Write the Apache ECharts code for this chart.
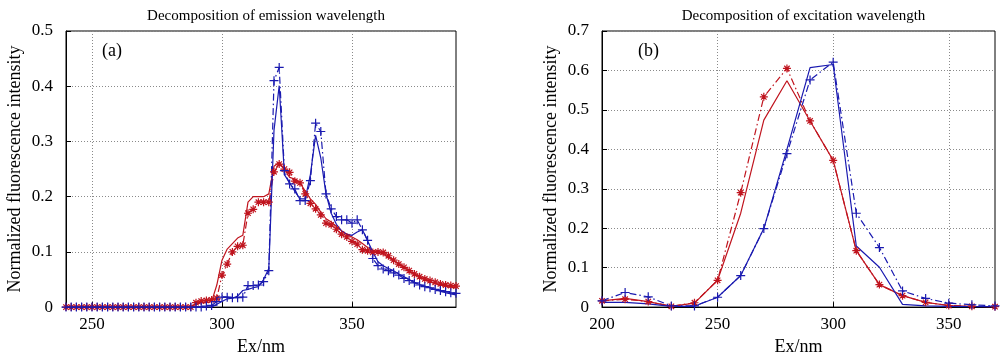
<!DOCTYPE html>
<html><head><meta charset="utf-8">
<script src="https://cdn.jsdelivr.net/npm/echarts@6/dist/echarts.min.js"></script>
<style>html,body{margin:0;padding:0;background:#fff}#c{width:1000px;height:361px}</style>
</head><body><div id="c"></div>
<script>
// ---- Panel (a): emission wavelength ----
const emX = [240,242,244,246,248,250,252,254,256,258,260,262,264,266,268,270,272,274,276,278,280,282,284,286,288,
  290,292,294,296,298,300,302,304,306,308,310,312,314,316,318,320,322,324,326,328,330,332,334,336,338,
  340,342,344,346,348,350,352,354,356,358,360,362,364,366,368,370,372,374,376,378,380,382,384,386,388,390];
const emRedLine = [0,0,0,0,0,0,0,0,0,0,0,0,0,0,0,0,0,0,0,0,0,0,0,0,0,
  0.005,0.008,0.008,0.010,0.040,0.085,0.105,0.115,0.125,0.130,0.190,0.200,0.200,0.200,0.205,0.255,0.262,0.250,0.235,0.232,0.225,0.210,0.196,0.186,0.172,
  0.160,0.154,0.146,0.138,0.132,0.127,0.122,0.115,0.108,0.103,0.100,0.096,0.090,0.084,0.078,0.072,0.066,0.060,0.055,0.050,0.046,0.043,0.040,0.038,0.036,0.035];
const emRedMark = [0,0,0,0,0,0,0,0,0,0,0,0,0,0,0,0,0,0,0,0,0,0,0,0,0,
  0.008,0.011,0.012,0.013,0.016,0.058,0.078,0.100,0.110,0.112,0.170,0.177,0.190,0.190,0.190,0.245,0.259,0.250,0.244,0.228,0.225,0.205,0.188,0.178,0.167,
  0.152,0.149,0.141,0.132,0.127,0.119,0.114,0.104,0.102,0.099,0.100,0.099,0.093,0.085,0.078,0.072,0.066,0.060,0.055,0.051,0.048,0.045,0.042,0.040,0.039,0.038];
const emBlueLine = [0,0,0,0,0,0,0,0,0,0,0,0,0,0,0,0,0,0,0,0,0,0,0,0,0,
  0,0,0,0,0.005,0.010,0.015,0.016,0.020,0.030,0.032,0.035,0.037,0.050,0.070,0.320,0.401,0.240,0.225,0.210,0.196,0.196,0.240,0.311,0.270,
  0.205,0.170,0.150,0.138,0.132,0.130,0.136,0.140,0.120,0.100,0.082,0.075,0.070,0.066,0.060,0.055,0.050,0.045,0.041,0.038,0.035,0.032,0.029,0.026,0.024,0.022];
const emBlueMark = [0,0,0,0,0,0,0,0,0,0,0,0,0,0,0,0,0,0,0,0,0,0,0,0,0,
  0,0,0.002,0.003,0.010,0.018,0.018,0.017,0.017,0.018,0.039,0.039,0.040,0.046,0.066,0.410,0.434,0.247,0.223,0.214,0.193,0.193,0.229,0.333,0.318,
  0.205,0.178,0.164,0.158,0.158,0.152,0.158,0.140,0.121,0.088,0.075,0.069,0.066,0.062,0.058,0.052,0.048,0.044,0.040,0.037,0.035,0.032,0.030,0.028,0.026,0.025];
const emXTicks = [250, 300, 350];

// ---- Panel (b): excitation wavelength ----
const exX = [200,210,220,230,240,250,260,270,280,290,300,310,320,330,340,350,360,370];
const exRedLine  = [0.016,0.022,0.014,0.002,0.010,0.068,0.238,0.474,0.574,0.472,0.372,0.143,0.057,0.029,0.012,0.004,0.002,0.001];
const exRedMark  = [0.016,0.020,0.014,0.002,0.011,0.068,0.290,0.533,0.605,0.472,0.372,0.143,0.057,0.029,0.012,0.004,0.002,0.001];
const exBlueLine = [0.012,0.012,0.008,0.002,0.002,0.025,0.080,0.199,0.400,0.607,0.615,0.155,0.101,0.007,0.003,0.002,0.001,0.001];
const exBlueMark = [0.016,0.037,0.026,0.003,0.003,0.025,0.080,0.199,0.389,0.576,0.621,0.238,0.151,0.041,0.022,0.010,0.006,0.003];
const exXTicks = [200, 250, 300, 350];

const titles = ['Decomposition of emission wavelength', 'Decomposition of excitation wavelength'];
const panelTags = ['(a)', '(b)'];
const xName = 'Ex/nm';
const yName = 'Normalized fluorescence intensity';

const RED = '#c0141e', BLUE = '#1a1ab0';
const FONT = "'Liberation Serif','Times New Roman',serif";
const ASTER = 'path://M5,0L5,10M0,5L10,5M1.6,1.6L8.4,8.4M1.6,8.4L8.4,1.6';
const PLUS = 'path://M5,0L5,10M0,5L10,5';
const DASHDOT = [7,3,1.5,3];

const zip = (xs, ys) => xs.map((x, i) => [x, ys[i]]);

const grids = [
  {left: 66, top: 31, width: 390, height: 281},
  {left: 602, top: 31, width: 393, height: 281}
];

function xAxisCfg(gi, min, max, ticks) {
  return {
    gridIndex: gi, type: 'value', min, max,
    name: xName, nameLocation: 'middle', nameGap: 28,
    nameTextStyle: {fontFamily: FONT, fontSize: 18, color: '#000'},
    axisLine: {show: true, lineStyle: {color: '#000', width: 1}},
    axisTick: {show: true, inside: true, length: 5, customValues: ticks, lineStyle: {color: '#000'}},
    axisLabel: {customValues: ticks, fontFamily: FONT, fontSize: 17, color: '#000', margin: 9},
    splitLine: {show: true, customValues: ticks, lineStyle: {color: '#8a8a8a', type: [1, 2], width: 1}}
  };
}
function yAxisCfg(gi, max) {
  return {
    gridIndex: gi, type: 'value', min: 0, max, interval: 0.1,
    name: yName, nameLocation: 'middle', nameGap: 42,
    nameTextStyle: {fontFamily: FONT, fontSize: 18, color: '#000'},
    axisLine: {show: true, lineStyle: {color: '#000', width: 1}},
    axisTick: {show: true, inside: true, length: 5, lineStyle: {color: '#000'}},
    axisLabel: {fontFamily: FONT, fontSize: 17, color: '#000', margin: 13,
      formatter: v => (Math.abs(v) < 1e-9 ? '0' : (+v.toFixed(1)).toString())},
    splitLine: {show: true, lineStyle: {color: '#8a8a8a', type: [1, 2], width: 1}}
  };
}

function lineSeries(gi, xs, ys, color, dashed, symbol, size) {
  return {
    type: 'line', xAxisIndex: gi, yAxisIndex: gi,
    data: zip(xs, ys),
    showSymbol: !!symbol, showAllSymbol: true,
    symbol: symbol || 'none', symbolSize: size || 8,
    itemStyle: {color: 'rgba(0,0,0,0)', borderColor: color, borderWidth: 1.2},
    lineStyle: {color, width: 1.2, type: dashed ? DASHDOT : 'solid'},
    emphasis: {disabled: true}, silent: true
  };
}

const chart = echarts.init(document.getElementById('c'), null, {renderer: 'canvas'});
chart.setOption({
  animation: false,
  backgroundColor: '#fff',
  title: [0, 1].map(i => ({
    text: titles[i], left: grids[i].left + grids[i].width / 2, top: 4, textAlign: 'center',
    textStyle: {fontFamily: FONT, fontSize: 15, fontWeight: 'normal', color: '#000'}
  })),
  grid: grids.map(g => Object.assign({show: true, borderColor: '#000', borderWidth: 1, backgroundColor: '#fff'}, g)),
  xAxis: [xAxisCfg(0, 240, 390, emXTicks), xAxisCfg(1, 200, 370, exXTicks)],
  yAxis: [yAxisCfg(0, 0.5), yAxisCfg(1, 0.7)],
  graphic: [0, 1].map(i => ({
    type: 'text', left: grids[i].left + 36, top: 42,
    style: {text: panelTags[i], font: "18px " + FONT, fill: '#000'}
  })),
  series: [
    lineSeries(0, emX, emRedLine, RED, false),
    lineSeries(0, emX, emRedMark, RED, true, ASTER, 8),
    lineSeries(0, emX, emBlueLine, BLUE, false),
    lineSeries(0, emX, emBlueMark, BLUE, true, PLUS, 9),
    lineSeries(1, exX, exRedLine, RED, false),
    lineSeries(1, exX, exRedMark, RED, true, ASTER, 8),
    lineSeries(1, exX, exBlueLine, BLUE, false),
    lineSeries(1, exX, exBlueMark, BLUE, true, PLUS, 9)
  ]
});
</script></body></html>
